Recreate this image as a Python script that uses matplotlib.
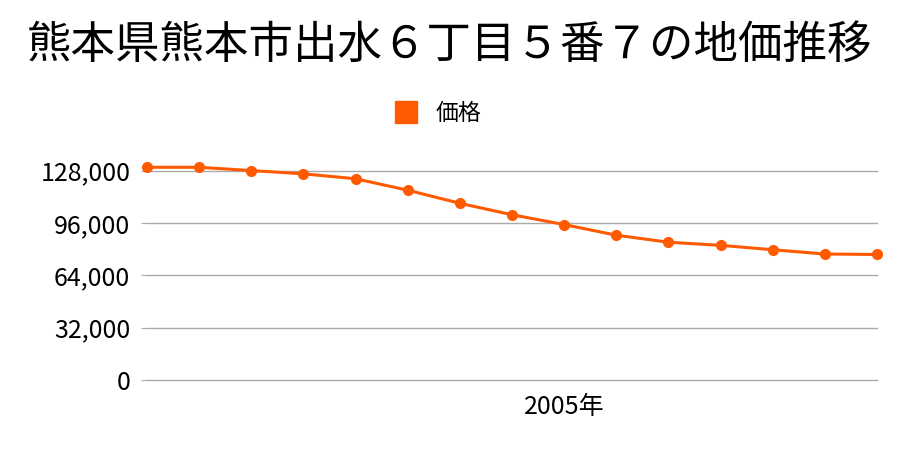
import numpy as np
import matplotlib.pyplot as plt

plt.rcParams['font.family'] = ['Noto Sans CJK JP', 'DejaVu Sans']

years = list(range(1997, 2012))
prices = [130000, 130000, 128000, 126000, 123000, 116000, 108000, 101000,
          95000, 88500, 84200, 82300, 79600, 77000, 76700]
y_ticks = [0, 32000, 64000, 96000, 128000]
x_label_year = 2005

color = '#ff5a00'

fig = plt.figure(figsize=(9, 4.5), dpi=100)
ax = fig.add_axes([0.1633, 0.1556, 0.8111, 0.509])

ax.plot(years, prices, color=color, lw=2.2, marker='o', ms=7, clip_on=False,
        label='価格', zorder=3)
ax.set_xlim(years[0], years[-1])
ax.set_ylim(0, 140000)
ax.set_yticks(y_ticks)
ax.set_yticklabels([f'{v:,}' for v in y_ticks])
ax.set_xticks([x_label_year])
ax.set_xticklabels([f'{x_label_year}年'])
for v in y_ticks:
    ax.axhline(v, color='#aaaaaa', lw=1, clip_on=False, zorder=1)
for s in ax.spines.values():
    s.set_visible(False)
ax.tick_params(axis='y', length=4, color='#aaaaaa', labelsize=18, pad=8)
ax.tick_params(axis='x', length=0, labelsize=18, pad=10)

fig.text(0.5, 0.9, '熊本県熊本市出水６丁目５番７の地価推移', ha='center', va='center',
         fontsize=32)
fig.legend(handles=[plt.Line2D([], [], ls='', marker='s', ms=16, color=color)],
           labels=['価格'], loc='center', bbox_to_anchor=(0.48, 0.748), frameon=False,
           fontsize=16.5, handletextpad=0.3)

fig.savefig('out.png')
